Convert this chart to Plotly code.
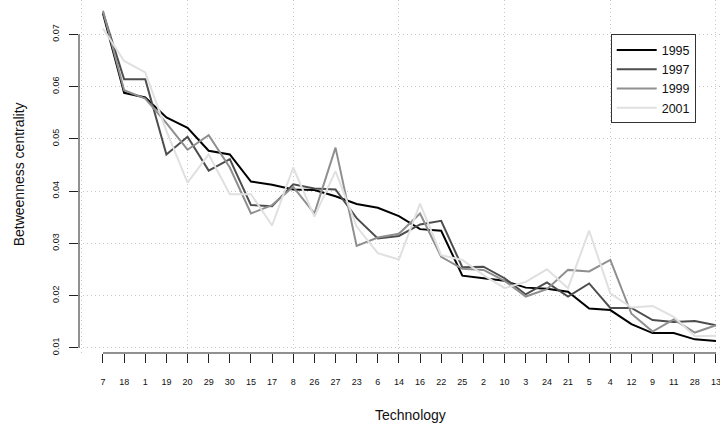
import plotly.graph_objects as go

categories = ["7", "18", "1", "19", "20", "29", "30", "15", "17", "8", "26", "27", "23", "6", "14",
              "16", "22", "25", "2", "10", "3", "24", "21", "5", "4", "12", "9", "11", "28", "13"]

y1995 = [0.0740, 0.0588, 0.0579, 0.0541, 0.0521, 0.0477, 0.0470, 0.0418, 0.0412, 0.0403,
         0.0402, 0.0390, 0.0375, 0.0368, 0.0352, 0.0327, 0.0324, 0.0238, 0.0233, 0.0228,
         0.0215, 0.0213, 0.0207, 0.0175, 0.0172, 0.0145, 0.0128, 0.0128, 0.0116, 0.0113]
y1997 = [0.0742, 0.0614, 0.0614, 0.0470, 0.0504, 0.0439, 0.0461, 0.0373, 0.0371, 0.0413,
         0.0405, 0.0403, 0.0348, 0.0309, 0.0314, 0.0336, 0.0343, 0.0254, 0.0255, 0.0233,
         0.0202, 0.0225, 0.0198, 0.0223, 0.0176, 0.0176, 0.0153, 0.0149, 0.0151, 0.0143]
y1999 = [0.0745, 0.0593, 0.0577, 0.0530, 0.0479, 0.0507, 0.0445, 0.0357, 0.0373, 0.0408,
         0.0357, 0.0483, 0.0295, 0.0311, 0.0318, 0.0357, 0.0274, 0.0251, 0.0249, 0.0228,
         0.0198, 0.0212, 0.0249, 0.0246, 0.0268, 0.0165, 0.0131, 0.0154, 0.0129, 0.0143]
y2001 = [0.0711, 0.0649, 0.0627, 0.0515, 0.0416, 0.0470, 0.0394, 0.0394, 0.0334, 0.0445,
         0.0351, 0.0438, 0.0332, 0.0281, 0.0269, 0.0376, 0.0277, 0.0268, 0.0239, 0.0214,
         0.0226, 0.0250, 0.0214, 0.0324, 0.0204, 0.0177, 0.0180, 0.0159, 0.0122, 0.0123]

series_names = ["1995", "1997", "1999", "2001"]
series_values = [y1995, y1997, y1999, y2001]
series_colors = ["#000000", "#4d4d4d", "#8f8f8f", "#e0e0e0"]

y_ticks = [0.01, 0.02, 0.03, 0.04, 0.05, 0.06, 0.07]
x_grid_idx = [-1, 4, 9, 14, 19, 24, 29]

FONT = "Liberation Sans, Arial, sans-serif"
AX = "#222222"
GRID = "#c8c8c8"
GDASH = "1px,3px"

fig = go.Figure()
for name, vals, col in zip(series_names, series_values, series_colors):
    fig.add_trace(go.Scatter(x=categories, y=vals, mode="lines", name=name,
                             line=dict(color=col, width=2)))

# invisible helper trace on a linear overlay axis for the sparse vertical grid
fig.add_trace(go.Scatter(x=[x_grid_idx[0]], y=[y_ticks[0]], xaxis="x2", mode="markers",
                         marker=dict(opacity=0), showlegend=False, hoverinfo="skip"))

xr = [-1.135, 29.19]
yr = [0.008985, 0.07657]

fig.update_layout(
    width=720, height=426,
    margin=dict(l=79, r=0, t=0, b=73, pad=0, autoexpand=False),
    paper_bgcolor="white", plot_bgcolor="white",
    font=dict(family=FONT, color="#111111"),
    showlegend=True,
    legend=dict(x=0.8295, y=0.9028, xanchor="left", yanchor="top",
                bgcolor="white", bordercolor="#333333", borderwidth=1,
                font=dict(size=12.5, family=FONT, color="#111111"),
                itemwidth=40, tracegroupgap=0),
    xaxis=dict(type="category", range=xr, showgrid=False, zeroline=False, automargin=False,
               showline=False, ticks="outside", ticklen=9, tickwidth=1, tickcolor=AX,
               tickfont=dict(size=9, family=FONT, color="#111111"),
               ticklabelstandoff=11, ticklabeloverflow="allow"),
    xaxis2=dict(overlaying="x", type="linear", range=xr, tickvals=x_grid_idx,
                showgrid=True, gridcolor=GRID, griddash=GDASH, gridwidth=1, automargin=False,
                showticklabels=False, ticks="", zeroline=False, showline=False),
    yaxis=dict(range=yr, tickvals=y_ticks, tickformat=".2f", showgrid=True, automargin=False,
               gridcolor=GRID, griddash=GDASH, gridwidth=1, zeroline=False,
               showline=False, ticks="outside", ticklen=9, tickwidth=1, tickcolor=AX,
               tickangle=-90, tickfont=dict(size=9, family=FONT, color="#111111"),
               ticklabelstandoff=6),
    shapes=[
        dict(type="line", xref="paper", yref="y", x0=0, x1=0, y0=y_ticks[0], y1=y_ticks[-1],
             line=dict(color=AX, width=1)),
        dict(type="line", xref="x2", yref="paper", x0=0, x1=len(categories) - 1, y0=0, y1=0,
             line=dict(color=AX, width=1)),
    ],
    annotations=[
        dict(text="Technology", xref="paper", yref="paper", x=0.5164, y=-0.1756,
             showarrow=False, xanchor="center", yanchor="middle",
             font=dict(size=14, family=FONT, color="#111111")),
        dict(text="Betweenness centrality", xref="paper", yref="paper", x=-0.0931, y=0.507,
             showarrow=False, xanchor="center", yanchor="middle", textangle=-90,
             font=dict(size=14, family=FONT, color="#111111")),
    ],
)

fig.write_html("out.html",
               config={"displayModeBar": False, "staticPlot": True},
               post_script="document.body.style.margin='0';document.body.style.overflow='hidden';")
